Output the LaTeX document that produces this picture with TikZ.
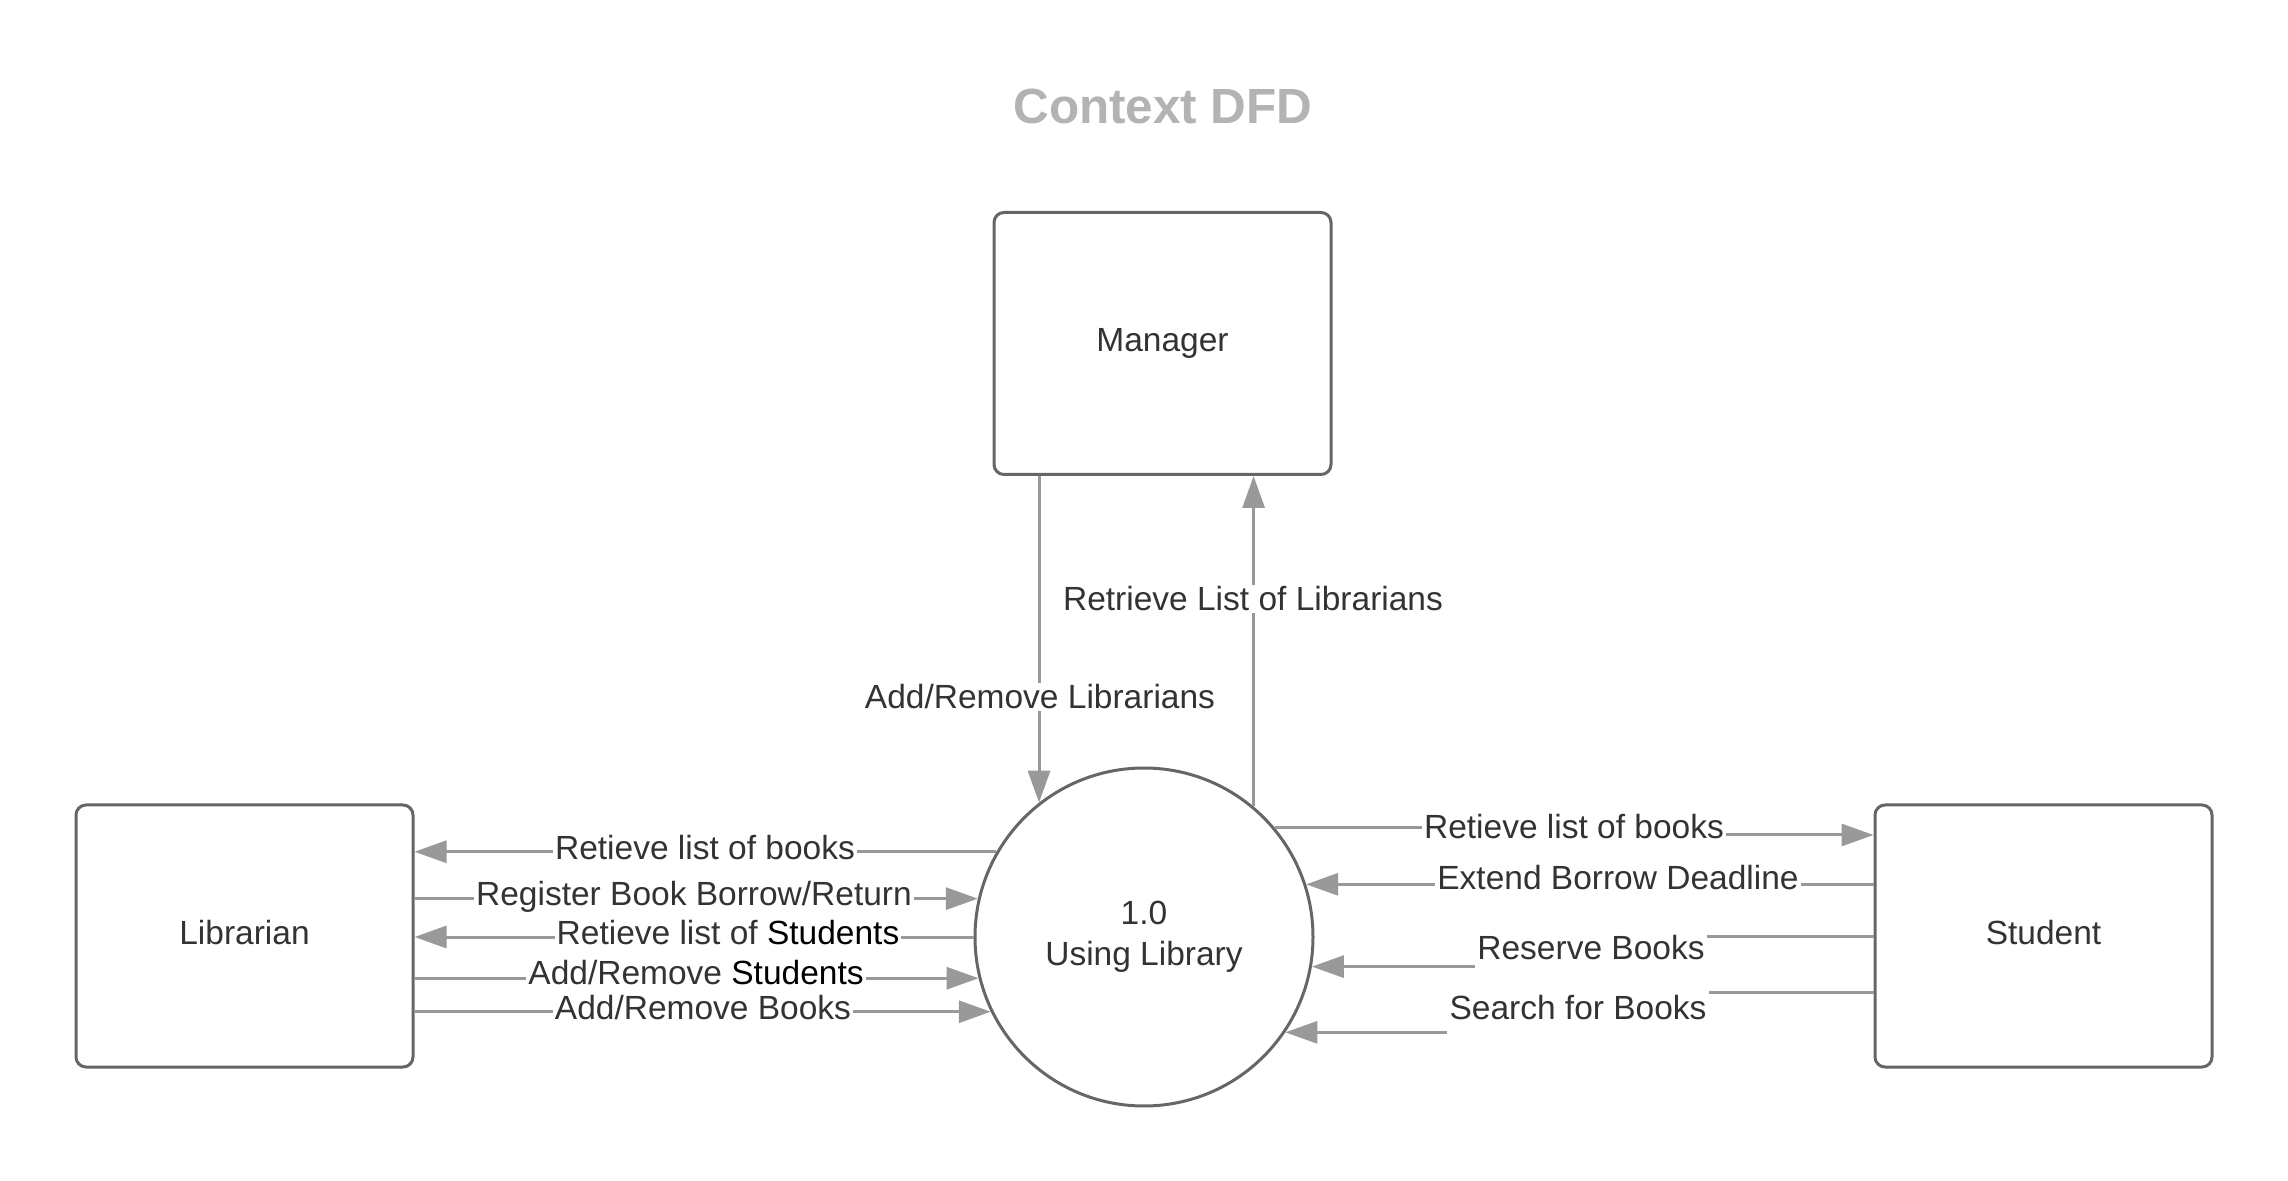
\documentclass[tikz,border=0pt]{standalone}
\usepackage{fontspec}
\setmainfont{Liberation Sans}
\usetikzlibrary{arrows.meta,calc}
\definecolor{boxc}{HTML}{666666}
\definecolor{linec}{HTML}{999999}
\definecolor{txtc}{HTML}{333333}
\definecolor{titlec}{HTML}{B3B3B3}
\begin{document}
\begin{tikzpicture}[x=0.5pt,y=-0.5pt,
 ent/.style={draw=boxc,line width=1.5pt,rounded corners=5pt,minimum width=168.5pt,minimum height=131pt,inner sep=0pt,text=txtc,text height=12pt,text depth=3.5pt,font=\fontsize{16.75}{20}\selectfont},
 proc/.style={circle,draw=boxc,line width=1.5pt,minimum size=169pt,inner sep=0pt,text=txtc,align=center,font=\fontsize{16.75}{20.5}\selectfont},
 conn/.style={draw=linec,line width=1.5pt},
 flow/.style={conn,-{Triangle[length=16pt,width=11pt]}},
 lbl/.style={fill=white,inner xsep=1pt,inner ysep=1pt,text height=12pt,text depth=0pt,text=txtc,font=\fontsize{16.75}{20}\selectfont},
 ttl/.style={text=titlec,font=\fontsize{24.7}{30}\selectfont\bfseries}
]
\fill[white] (0,0) rectangle (2288,1181);
\useasboundingbox (0,0) rectangle (2288,1181);

\node[ttl] (title) at (1163,107) {Context DFD};

\node[ent] (man) at (1162.5,343.5) {Manager};
\node[ent] (lib) at (244.5,936) {Librarian};
\node[ent] (st) at (2043.5,936) {Student};
\node[proc] (circ) at (1144,937) {1.0\\Using Library};

% Manager flows
\draw[flow] (man.south -| circ.128.4) -- (circ.128.4);
\draw[flow] (circ.50.3) -- (man.south -| circ.50.3);
\node[lbl] (lAR) at (1040,697) {Add/Remove Librarians};
\node[lbl] (lRL) at (1253,599) {Retrieve List of Librarians};

% Librarian flows
\draw[flow] (circ.150.6) -- (lib.east |- circ.150.6);
\draw[flow] (lib.east |- circ.167.4) -- (circ.167.4);
\draw[flow] (circ.180.3) -- (lib.east |- circ.180.3);
\draw[flow] (lib.east |- circ.194) -- (circ.194);
\draw[flow] (lib.east |- circ.206.7) -- (circ.206.7);
\node[lbl] (l1) at (705,848) {Retieve list of books};
\node[lbl] (l2) at (694,894) {Register Book Borrow/Return};
\node[lbl] (l3) at (728,932) {Retieve list of {\color{black}Students}};
\node[lbl] (l4) at (696,972) {Add/Remove {\color{black}Students}};
\node[lbl] (l5) at (703,1007) {Add/Remove Books};

% Student flows
\node[lbl] (r1) at (1574,827) {Retieve list of books};
\coordinate (s1) at ([yshift=50.5pt]st.west);
\draw[conn] (circ.40.6) -- (r1.west |- circ.40.6);
\draw[flow] (r1.east |- s1) -- (s1);

\draw[flow] (st.west |- circ.18.6) -- (circ.18.6);
\node[lbl] (r2) at (1618,878) {Extend Borrow Deadline};

\node[lbl] (rb) at (1591,947) {Reserve Books};
\draw[conn] (st.west) -- (rb.east |- st.west);
\draw[flow] (rb.west |- circ.350.1) -- (circ.350.1);

\node[lbl] (sb) at (1578,1007) {Search for Books};
\coordinate (s2) at ([yshift=-28pt]st.west);
\draw[conn] (s2) -- (sb.east |- s2);
\draw[flow] (sb.west |- circ.326.6) -- (circ.326.6);
\end{tikzpicture}
\end{document}
